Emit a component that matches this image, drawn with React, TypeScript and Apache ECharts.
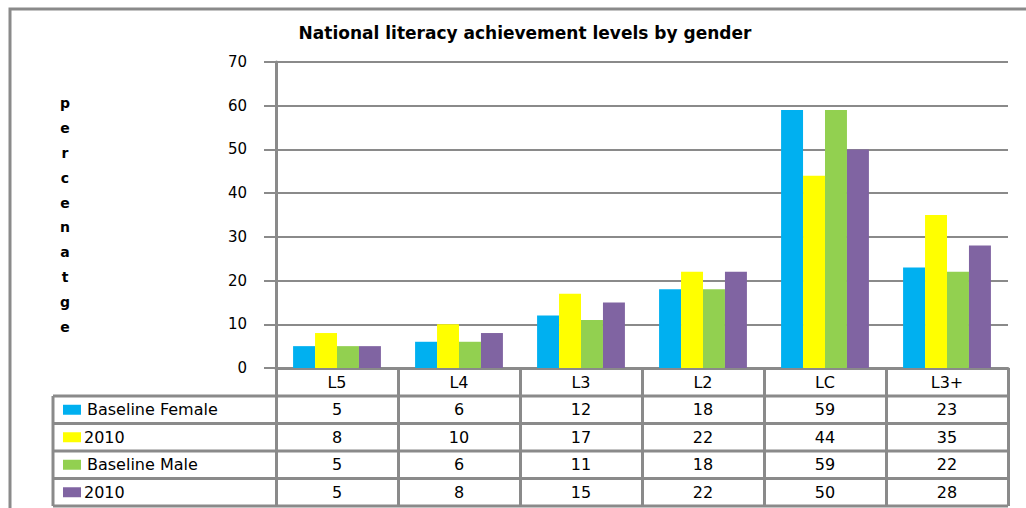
import React, { useEffect, useRef } from "react";
import * as echarts from "echarts";

const categories = ["L5", "L4", "L3", "L2", "LC", "L3+"];
const seriesNames = ["Baseline Female", "2010", "Baseline Male", "2010"];
const baselineFemale = [5, 6, 12, 18, 59, 23];
const female2010 = [8, 10, 17, 22, 44, 35];
const baselineMale = [5, 6, 11, 18, 59, 22];
const male2010 = [5, 8, 15, 22, 50, 28];
const seriesColors = ["#00B0F0", "#FFFF00", "#92D050", "#8064A2"];
const yAxisLetters = ["p", "e", "r", "c", "e", "n", "a", "t", "g", "e"];
const titleText = "National literacy achievement levels by gender";

const GRAY = "#8a8a8a";
const FONT = "DejaVu Sans";

export default function App() {
  const ref = useRef<HTMLDivElement>(null);
  useEffect(() => {
    if (!ref.current) return;
    const chart = echarts.init(ref.current, null, { renderer: "svg" });
    const allSeries = [baselineFemale, female2010, baselineMale, male2010];
    chart.setOption({
      animation: false,
      backgroundColor: "#fff",
      title: {
        text: titleText,
        left: 520,
        textAlign: "center",
        top: 19,
        textStyle: { fontFamily: FONT, fontSize: 17, fontWeight: "bold", color: "#000" },
      },
      grid: { left: 276, right: 18, top: 62, bottom: 140 },
      xAxis: {
        type: "category",
        data: categories,
        axisLine: { lineStyle: { color: GRAY, width: 3 } },
        axisTick: { show: true, length: 138, interval: 0, lineStyle: { color: GRAY, width: 3 } },
        axisLabel: { fontFamily: FONT, fontSize: 16, color: "#000", margin: 6 },
      },
      yAxis: {
        type: "value",
        min: 0,
        max: 70,
        interval: 10,
        axisLine: { show: true, lineStyle: { color: GRAY, width: 3 } },
        axisTick: { show: true, length: 12, lineStyle: { color: GRAY, width: 2 } },
        splitLine: { lineStyle: { color: GRAY, width: 2 } },
        axisLabel: { fontFamily: FONT, fontSize: 15, color: "#000", margin: 29 },
      },
      series: allSeries.map((d, i) => ({
        type: "bar",
        name: seriesNames[i],
        data: d,
        barGap: "0%",
        barCategoryGap: "28%",
        itemStyle: { color: seriesColors[i] },
      })),
    });

    const xs = categories.map((c) => chart.convertToPixel({ xAxisIndex: 0 }, c) as number);
    const y0 = chart.convertToPixel({ yAxisIndex: 0 }, 0) as number;
    const yTop = chart.convertToPixel({ yAxisIndex: 0 }, 70) as number;
    const step = xs.length > 1 ? xs[1] - xs[0] : 122;
    const rightX = xs[xs.length - 1] + step / 2;
    const tableLeft = 53;
    const headerH = 28;
    const rowH = 27.5;
    const firstRowTop = y0 + headerH;

    const elements: any[] = [];
    elements.push({
      type: "rect",
      shape: { x: 10, y: 9, width: 1040, height: 540 },
      style: { fill: "none", stroke: GRAY, lineWidth: 3 },
      z: 1,
    });
    elements.push({
      type: "text",
      x: 65,
      y: (y0 + yTop) / 2,
      style: {
        text: yAxisLetters.join("\n"),
        fontFamily: FONT,
        fontSize: 14,
        fontWeight: "bold",
        lineHeight: 24.8,
        fill: "#000",
        align: "center",
        verticalAlign: "middle",
      },
    });
    for (let r = 0; r <= seriesNames.length; r++) {
      const y = firstRowTop + r * rowH;
      elements.push({
        type: "line",
        shape: { x1: tableLeft, y1: y, x2: rightX, y2: y },
        style: { stroke: GRAY, lineWidth: 3 },
        z: 10,
      });
    }
    elements.push({
      type: "line",
      shape: { x1: tableLeft, y1: firstRowTop, x2: tableLeft, y2: firstRowTop + seriesNames.length * rowH },
      style: { stroke: GRAY, lineWidth: 3 },
      z: 10,
    });
    seriesNames.forEach((name, r) => {
      const cy = firstRowTop + r * rowH + rowH / 2;
      elements.push({
        type: "rect",
        shape: { x: 63, y: cy - 5, width: 18, height: 10 },
        style: { fill: seriesColors[r] },
        z: 10,
      });
      elements.push({
        type: "text",
        x: name === "2010" ? 84 : 87,
        y: cy,
        style: {
          text: name,
          fontFamily: FONT,
          fontSize: 16,
          fill: "#000",
          align: "left",
          verticalAlign: "middle",
        },
        z: 10,
      });
      allSeries[r].forEach((v, c) => {
        elements.push({
          type: "text",
          x: xs[c],
          y: cy,
          style: {
            text: String(v),
            fontFamily: FONT,
            fontSize: 16,
            fill: "#000",
            align: "center",
            verticalAlign: "middle",
          },
          z: 10,
        });
      });
    });
    chart.setOption({ graphic: elements });
    return () => chart.dispose();
  }, []);
  return (
    <div
      ref={ref}
      style={{ position: "fixed", left: 0, top: 0, width: 1026, height: 508 }}
    />
  );
}
